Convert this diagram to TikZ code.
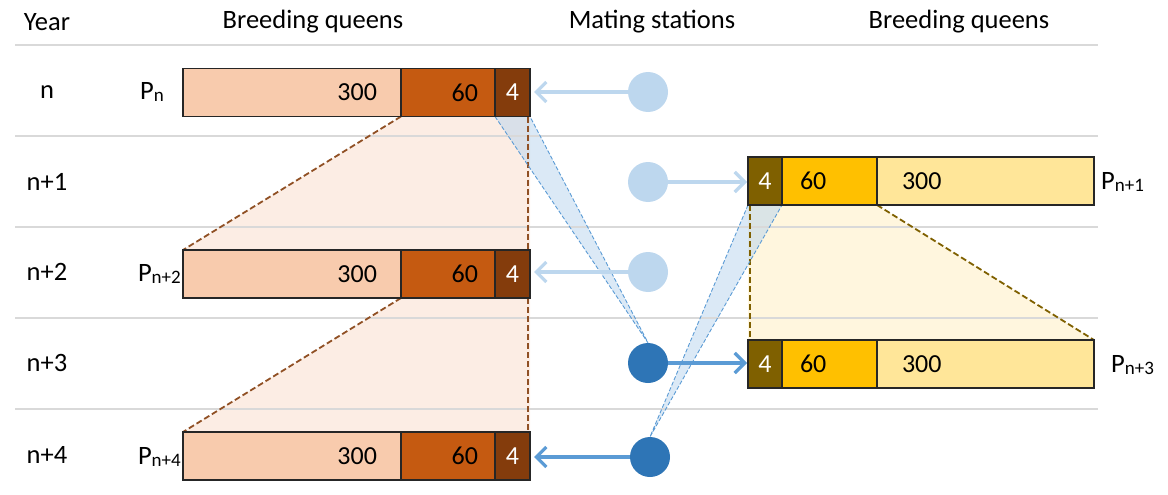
\documentclass[tikz,border=0pt]{standalone}
\usepackage{fontspec}
\setmainfont{Carlito}
\usetikzlibrary{arrows.meta,positioning,backgrounds}

\definecolor{peach}{RGB}{248,203,173}
\definecolor{rust}{RGB}{197,90,17}
\definecolor{umber}{RGB}{132,60,12}
\definecolor{goldbrown}{RGB}{127,96,0}
\definecolor{gold}{RGB}{255,192,0}
\definecolor{palegold}{RGB}{255,230,153}
\definecolor{paleblue}{RGB}{189,215,238}
\definecolor{deepblue}{RGB}{46,117,182}
\definecolor{midblue}{RGB}{91,155,213}
\definecolor{gridgray}{RGB}{217,217,217}
\definecolor{pinkfill}{RGB}{252,237,228}
\definecolor{creamfill}{RGB}{255,246,222}

\newcommand{\psub}[1]{{\fontsize{19}{19}\selectfont\raisebox{-1.5pt}{#1}}}
% left bar: 300 | 60 | 4
\newcommand{\leftbar}[2]{
        \node[seg,fill=peach,text width=170pt,inner xsep=24pt,align=right] (#1-300) at (292,#2) {300};
        \node[seg,fill=rust,text width=60pt,inner xsep=17pt,align=right,right=0pt of #1-300] (#1-60) {60};
        \node[seg,fill=umber,text=white,text width=35pt,inner xsep=0pt,align=center,right=0pt of #1-60] (#1-4) {4};}
% right bar: 4 | 60 | 300
\newcommand{\rightbar}[2]{
        \node[seg,fill=goldbrown,text=white,text width=34pt,inner xsep=0pt,align=center] (#1-4) at (765,#2) {4};
        \node[seg,fill=gold,text width=59pt,inner xsep=18pt,align=left,right=0pt of #1-4] (#1-60) {60};
        \node[seg,fill=palegold,text width=167pt,inner xsep=25pt,align=left,right=0pt of #1-60] (#1-300) {300};}

\begin{document}
\begin{tikzpicture}[x=1pt,y=-1pt,
        txt/.style={font=\fontsize{26.5}{30}\selectfont,inner sep=0pt},
        seg/.style={draw=black!85,line width=1.2pt,outer sep=0pt,inner ysep=0pt,minimum height=48pt,font=\fontsize{26}{30}\selectfont},
        station/.style={circle,inner sep=0pt,minimum size=40pt},
        gridline/.style={draw=gridgray,line width=2.5pt},
        lightarrow/.style={draw=paleblue,line width=3.2pt,-{Straight Barb[length=10pt,width=20pt]}},
        darkarrow/.style={draw=midblue,line width=3.2pt,-{Straight Barb[length=10pt,width=20pt]}},
        browndash/.style={draw=umber!90,line width=1.8pt,dash pattern=on 6pt off 3pt},
        olivedash/.style={draw=goldbrown,line width=1.8pt,dash pattern=on 6pt off 3pt},
        bluedash/.style={draw=midblue,line width=0.9pt,dash pattern=on 4pt off 2pt}]
        \useasboundingbox (0,0) rectangle (1168,495);

        % headings
        \node[txt] (hyear) at (47,22) {Year};
        \node[txt] (hleft) at (313,22) {Breeding queens};
        \node[txt] (hmid) at (652,22) {Mating stations};
        \node[txt] (hright) at (959,22) {Breeding queens};

        % years
        \node[txt] (y0) at (47,92) {n};
        \node[txt] (y1) at (47,182) {n+1};
        \node[txt] (y2) at (47,272) {n+2};
        \node[txt] (y3) at (47,363) {n+3};
        \node[txt] (y4) at (47,455) {n+4};

        % breeding queens
        \leftbar{Pn}{92.5}
        \leftbar{Pn2}{274}
        \leftbar{Pn4}{456}
        \rightbar{Pn1}{181}
        \rightbar{Pn3}{364}

        \node[txt,anchor=east] (lPn) at (164,92) {P\psub{n}};
        \node[txt,anchor=east] (lPn2) at (181,274) {P\psub{n+2}};
        \node[txt,anchor=east] (lPn4) at (181,457) {P\psub{n+4}};
        \node[txt,anchor=west] (lPn1) at (1101,182) {P\psub{n+1}};
        \node[txt,anchor=west] (lPn3) at (1111,365) {P\psub{n+3}};

        % mating stations
        \node[station,fill=paleblue] (ms1) at (648,92) {};
        \node[station,fill=paleblue] (ms2) at (648,182) {};
        \node[station,fill=paleblue] (ms3) at (648,272) {};
        \node[station,fill=deepblue] (ms4) at (648,363) {};
        \node[station,fill=deepblue] (ms5) at (650,457) {};

        \draw[lightarrow,shorten >=4pt] (ms1.west) -- (Pn-4.east |- ms1.west);
        \draw[lightarrow,shorten >=1pt] (ms2.east) -- (Pn1-4.west |- ms2.east);
        \draw[lightarrow,shorten >=4pt] (ms3.west) -- (Pn2-4.east |- ms3.west);
        \draw[darkarrow,shorten >=1pt] (ms4.east) -- (Pn3-4.west |- ms4.east);
        \draw[darkarrow,shorten >=4pt] (ms5.west) -- (Pn4-4.east |- ms5.west);

        \begin{scope}[on background layer]
        % offspring fans
        \fill[pinkfill] (Pn-60.south west) -- (Pn-4.south east) -- (Pn2-4.north east) -- (Pn2-300.north west) -- cycle;
        \fill[pinkfill] (Pn2-60.south west) -- (Pn2-4.south east) -- (Pn4-4.north east) -- (Pn4-300.north west) -- cycle;
        \fill[creamfill] (Pn1-4.south west) -- (Pn1-60.south east) -- (Pn3-300.north east) -- (Pn3-4.north west) -- cycle;
        \fill[paleblue,opacity=0.55] (Pn-4.south west) -- (Pn-4.south east) -- (ms4.north) -- cycle;
        \fill[paleblue,opacity=0.55] (Pn1-4.south west) -- (Pn1-4.south east) -- (ms5.north) -- cycle;

        % rows
        \foreach \y in {45,136,227,318,409}
            \draw[gridline] (15,\y) -- (1098,\y);

        \draw[browndash] (Pn-60.south west) -- (Pn2-300.north west);
        \draw[browndash] ([xshift=-2pt]Pn-4.south east) -- ([xshift=-2pt]Pn2-4.north east);
        \draw[browndash] (Pn2-60.south west) -- (Pn4-300.north west);
        \draw[browndash] ([xshift=-2pt]Pn2-4.south east) -- ([xshift=-2pt]Pn4-4.north east);
        \draw[olivedash] ([xshift=2pt]Pn1-4.south west) -- ([xshift=2pt]Pn3-4.north west);
        \draw[olivedash] (Pn1-60.south east) -- (Pn3-300.north east);
        \draw[bluedash] (Pn-4.south west) -- (ms4.north) -- (Pn-4.south east);
        \draw[bluedash] (Pn1-4.south west) -- (ms5.north) -- (Pn1-4.south east);
        \end{scope}
\end{tikzpicture}
\end{document}
